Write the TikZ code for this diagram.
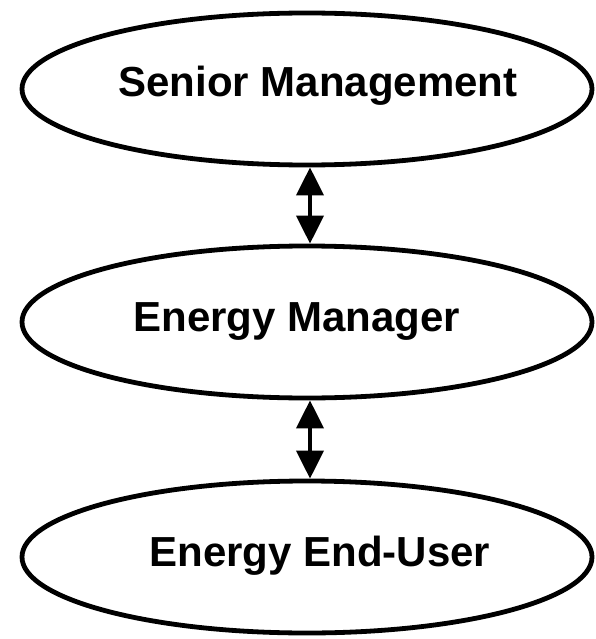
\documentclass[tikz,border=0pt]{standalone}
\usepackage{fontspec}
\setmainfont{Liberation Sans}
\usetikzlibrary{shapes.geometric,arrows.meta}

\tikzset{
  role/.style={ellipse, draw=black, line width=4.8pt, minimum width=570pt,
    minimum height=152pt, inner sep=0pt},
  lbl/.style={font=\fontsize{42pt}{46pt}\selectfont\bfseries, inner sep=0pt, anchor=center},
  link/.style={line width=4pt, {Triangle[width=27pt,length=28pt]}-{Triangle[width=27pt,length=28pt]}}
}

\begin{document}
\begin{tikzpicture}[x=1pt,y=-1pt]
  \useasboundingbox (0,0) rectangle (596,639);

  % the three levels of the hierarchy
  \node[role] (sm) at (307,89) {};
  \node[role] (em) at (307,322) {};
  \node[role] (eu) at (307,557) {};

  \node[lbl] (smt) at (318,86) {Senior Management};
  \node[lbl] (emt) at (297,322) {Energy Manager};
  \node[lbl] (eut) at (320,556) {Energy End-User};

  % two-way communication between neighbouring levels
  \draw[link] ([xshift=3pt]sm.south) -- ([xshift=3pt]em.north);
  \draw[link] ([xshift=3pt]em.south) -- ([xshift=3pt]eu.north);
\end{tikzpicture}
\end{document}
